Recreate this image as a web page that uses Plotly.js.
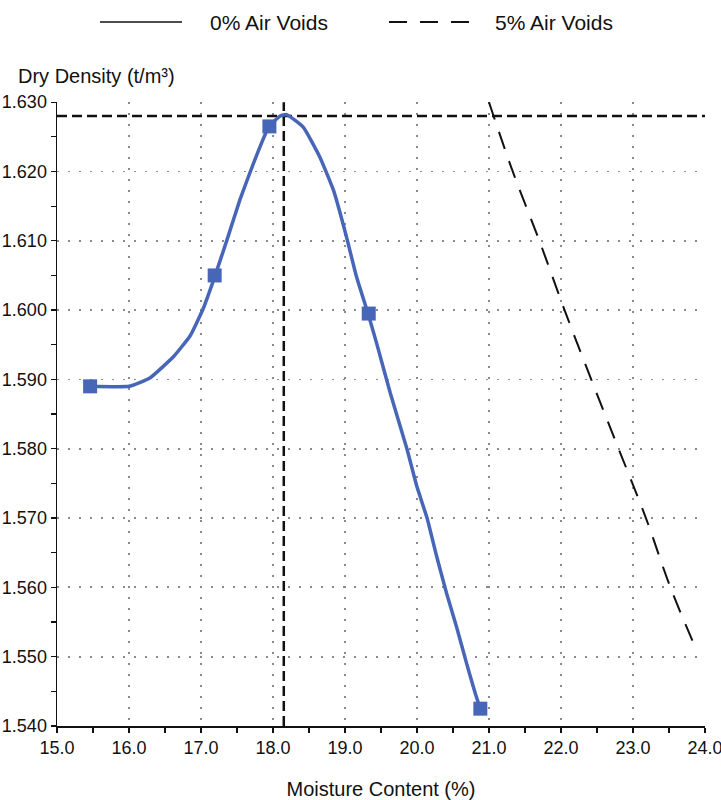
<!DOCTYPE html>
<html>
<head>
<meta charset="utf-8">
<script src="https://cdn.plot.ly/plotly-3.0.1.min.js"></script>
<style>
html,body{margin:0;padding:0;background:#fff;}
#chart{width:721px;height:800px;}
</style>
</head>
<body>
<div id="chart"></div>
<script>
// Measured compaction points (moisture %, dry density t/m3)
const mcMeasured = [15.46, 17.19, 17.95, 19.33, 20.88];
const ddMeasured = [1.589, 1.605, 1.6265, 1.5995, 1.5425];

// Fitted compaction curve
const mcCurve = [15.46, 16.00, 16.29, 16.62, 16.85, 17.03, 17.19, 17.36, 17.54, 17.73, 17.94, 18.10, 18.19, 18.42, 18.65, 18.84, 19.02, 19.16, 19.32, 19.44, 19.63, 19.86, 20.00, 20.14, 20.27, 20.41, 20.55, 20.69, 20.81, 20.88];
const ddCurve = [1.589, 1.589, 1.5902, 1.5933, 1.5963, 1.6002, 1.6048, 1.6101, 1.6159, 1.6212, 1.6264, 1.6280, 1.6282, 1.6264, 1.6221, 1.6173, 1.6106, 1.6048, 1.5995, 1.5952, 1.5880, 1.5800, 1.5745, 1.5700, 1.5646, 1.5592, 1.5543, 1.5490, 1.5447, 1.5425];

// 5% air voids line
const mcAirVoids5 = [21.00, 21.33, 21.70, 22.05, 22.42, 22.80, 23.18, 23.52, 23.86];
const ddAirVoids5 = [1.630, 1.620, 1.610, 1.600, 1.590, 1.580, 1.570, 1.560, 1.5515];

// Optimum moisture content and maximum dry density
const optimumMoisture = 18.15;
const maxDryDensity = 1.628;

// Axis ranges and labels
const xRange = [15, 24];
const yRange = [1.540, 1.630];
const legendLabels = ["0% Air Voids", "5% Air Voids"];
const xTitle = "Moisture Content (%)";
const yTitle = "Dry Density (t/m³)";

const blue = "#4766b8";
const FONT = "Liberation Sans, Arial, sans-serif";

const traces = [
  {x: [xRange[0], xRange[1]], y: [maxDryDensity, maxDryDensity], mode: "lines",
   line: {color: "#111", width: 2.5, dash: "10px,5px"}, showlegend: false, hoverinfo: "skip"},
  {x: [optimumMoisture, optimumMoisture], y: [yRange[0], yRange[1]], mode: "lines",
   line: {color: "#111", width: 2.5, dash: "10px,5px"}, showlegend: false, hoverinfo: "skip"},
  {x: mcAirVoids5, y: ddAirVoids5, mode: "lines", name: legendLabels[1],
   line: {color: "#111", width: 2, dash: "18px,13px", shape: "spline"}, showlegend: false},
  {x: mcCurve, y: ddCurve, mode: "lines", name: "Compaction curve",
   line: {color: blue, width: 3.5, shape: "spline", smoothing: 0.4}, showlegend: false},
  {x: mcMeasured, y: ddMeasured, mode: "markers", name: "Test points",
   marker: {symbol: "square", size: 14, color: blue}, showlegend: false}
];

// paper coordinate helpers for the plot area (57..705 x, 102..726 y)
const L = 57, R = 705, T = 102, B = 726;
const px = v => (v - L) / (R - L);
const py = v => (B - v) / (B - T);

const layout = {
  width: 721, height: 800,
  margin: {l: L, r: 721 - R, t: T, b: 800 - B},
  paper_bgcolor: "#fff", plot_bgcolor: "#fff",
  font: {family: FONT, size: 18, color: "#111"},
  showlegend: false,
  xaxis: {
    range: [xRange[0], xRange[1] + 0.0005], dtick: 1, tick0: 15, tickformat: ".1f",
    ticklabeloverflow: "allow",
    showline: true, linecolor: "#111", linewidth: 1.5,
    ticks: "outside", ticklen: 5, tickcolor: "#111", tickwidth: 1.2,
    minor: {dtick: 0.5, ticks: "outside", ticklen: 5, tickcolor: "#111", showgrid: false},
    showgrid: true, gridcolor: "#8a8a8a", gridwidth: 1.8, griddash: "2px,9px",
    zeroline: false,
    tickfont: {family: FONT, size: 18, color: "#111"},
    title: {text: xTitle, font: {family: FONT, size: 20, color: "#111"}, standoff: 26}
  },
  yaxis: {
    range: [yRange[0], yRange[1] + 0.00002], dtick: 0.01, tick0: 1.54, tickformat: ".3f",
    showline: true, linecolor: "#111", linewidth: 1.5,
    ticks: "outside", ticklen: 5, tickcolor: "#111", tickwidth: 1.2,
    minor: {dtick: 0.005, ticks: "outside", ticklen: 5, tickcolor: "#111", showgrid: false},
    showgrid: true, gridcolor: "#8a8a8a", gridwidth: 1.8, griddash: "2px,9px",
    zeroline: false,
    tickfont: {family: FONT, size: 18, color: "#111"}
  },
  shapes: [
    {type: "line", xref: "paper", yref: "paper", x0: px(100), x1: px(182), y0: py(22), y1: py(22),
     line: {color: "#111", width: 1.5}},
    {type: "line", xref: "paper", yref: "paper", x0: px(389), x1: px(470), y0: py(22), y1: py(22),
     line: {color: "#111", width: 2, dash: "18px,13px"}}
  ],
  annotations: [
    {text: yTitle, xref: "paper", yref: "paper", x: px(16), y: py(76), xanchor: "left", yanchor: "middle",
     showarrow: false, font: {family: FONT, size: 20, color: "#111"}},
    {text: legendLabels[0], xref: "paper", yref: "paper", x: px(208), y: py(22), xanchor: "left", yanchor: "middle",
     showarrow: false, font: {family: FONT, size: 21, color: "#111"}},
    {text: legendLabels[1], xref: "paper", yref: "paper", x: px(493), y: py(22), xanchor: "left", yanchor: "middle",
     showarrow: false, font: {family: FONT, size: 21, color: "#111"}}
  ]
};

Plotly.newPlot("chart", traces, layout, {displayModeBar: false, staticPlot: true});
</script>
</body>
</html>
